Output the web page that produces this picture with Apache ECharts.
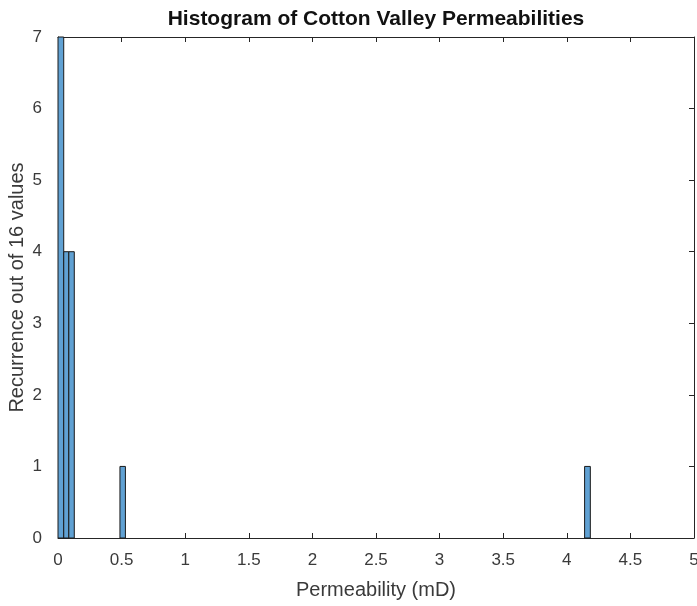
<!DOCTYPE html>
<html><head><meta charset="utf-8">
<script src="https://cdn.jsdelivr.net/npm/echarts@6/dist/echarts.min.js"></script>
<style>html,body{margin:0;padding:0;background:#fff}#c{width:697px;height:606px}</style>
</head><body><div id="c"></div>
<script>
// Histogram bins: left edge, right edge, count
var binStart = [0, 0.045, 0.085, 0.487, 4.14];
var binEnd   = [0.045, 0.085, 0.128, 0.530, 4.185];
var counts   = [7, 4, 4, 1, 1];
var xTicks = [0,0.5,1,1.5,2,2.5,3,3.5,4,4.5,5];
var yTicks = [0,1,2,3,4,5,6,7];

var data = binStart.map(function(s,i){return [s, binEnd[i], counts[i]];});
var txt = '#262626';
var font = 'Liberation Sans, Arial, sans-serif';
var chart = echarts.init(document.getElementById('c'));
function axisCommon(show){
  return {
    axisLine:{show:true,onZero:false,lineStyle:{color:txt,width:1}},
    axisTick:{show:true,inside:true,length:5,lineStyle:{color:txt}},
    splitLine:{show:false},
    axisLabel:{show:show,color:'#3a3a3a',fontSize:17,fontFamily:font}
  };
}
var xa = axisCommon(true);
xa.type='value'; xa.min=0; xa.max=5; xa.interval=0.5; xa.position='bottom';
xa.name='Permeability (mD)'; xa.nameLocation='middle'; xa.nameGap=42; xa.nameMoveOverlap=false;
xa.nameTextStyle={color:'#3a3a3a',fontSize:20,fontFamily:font};
xa.axisLabel.margin=14;
xa.axisLabel.formatter=function(v){return xTicks.indexOf(v)>=0?String(v):'';};
var xt = axisCommon(false); xt.type='value'; xt.min=0; xt.max=5; xt.interval=0.5; xt.position='top';
var ya = axisCommon(true);
ya.type='value'; ya.min=0; ya.max=7; ya.interval=1; ya.position='left';
ya.name='Recurrence out of 16 values'; ya.nameLocation='middle'; ya.nameGap=31; ya.nameMoveOverlap=false;
ya.nameTextStyle={color:'#3a3a3a',fontSize:20,fontFamily:font};
ya.axisLabel.margin=16;
ya.axisLabel.formatter=function(v){return yTicks.indexOf(v)>=0?String(v):'';};
var yr = axisCommon(false); yr.type='value'; yr.min=0; yr.max=7; yr.interval=1; yr.position='right';

chart.setOption({
  animation:false,
  title:{text:'Histogram of Cotton Valley Permeabilities',left:371,textAlign:'center',top:4,
    textStyle:{fontSize:21,fontWeight:'bold',color:'#111',fontFamily:font}},
  grid:{left:58,right:3,top:37,bottom:68,containLabel:false,outerBoundsMode:'none'},
  xAxis:[xa,xt],
  yAxis:[ya,yr],
  series:[{
    type:'custom',
    xAxisIndex:0,yAxisIndex:0,
    data:data,
    encode:{x:[0,1],y:2},
    renderItem:function(params,api){
      var p0=api.coord([api.value(0),0]);
      var p1=api.coord([api.value(1),api.value(2)]);
      return {type:'rect',shape:{x:p0[0],y:p1[1],width:p1[0]-p0[0],height:p0[1]-p1[1]},
        style:{fill:'#60A1D3',stroke:'#1a1a1a',lineWidth:1}};
    }
  }]
});
</script></body></html>
